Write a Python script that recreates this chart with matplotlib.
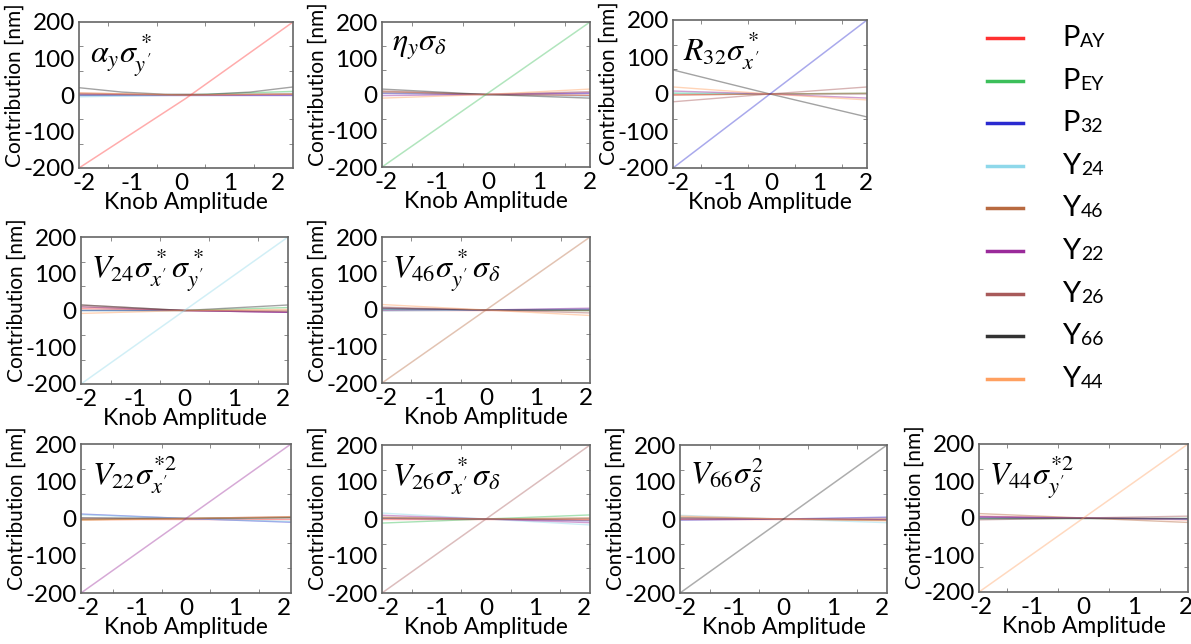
import numpy as np
import matplotlib
matplotlib.use("Agg")
import matplotlib.pyplot as plt
from matplotlib.ticker import MultipleLocator

plt.rcParams["font.family"] = ["Lato", "DejaVu Sans"]
plt.rcParams["mathtext.fontset"] = "stix"
plt.rcParams["axes.unicode_minus"] = False

# knobs (legend order)
knob_base = ["P", "P", "P", "Y", "Y", "Y", "Y", "Y", "Y"]
knob_sub = ["AY", "EY", "32", "24", "46", "22", "26", "66", "44"]
knob_colors = ["#ff3030", "#3cbf5a", "#2a2ad0", "#8ed8ea", "#b86a40",
               "#9a2a9a", "#a85a5a", "#333333", "#ffa060"]

# panel titles, the dominant line in each panel follows the legend order
titles = [r"$\alpha_y\sigma^*_{y'}$", r"$\eta_y\sigma_\delta$",
          r"$R_{32}\sigma^*_{x'}$", r"$V_{24}\sigma^*_{x'}\sigma^*_{y'}$",
          r"$V_{46}\sigma^*_{y'}\sigma_\delta$", r"$V_{22}\sigma^{*2}_{x'}$",
          r"$V_{26}\sigma^*_{x'}\sigma_\delta$", r"$V_{66}\sigma^2_\delta$",
          r"$V_{44}\sigma^{*2}_{y'}$"]
x_range = [(-2.1, 2.3), (-2.08, 2.0), (-2.1, 2.03), (-2.1, 2.1), (-2.08, 2.08),
           (-2.15, 2.15), (-2.12, 2.12), (-2.1, 2.1), (-2.05, 2.05)]

# contribution [nm] from xmin to xmax (points spread evenly over the x range)
# order in each list: PAY, PEY, P32, Y24, Y46, Y22, Y26, Y66, Y44
alpha_y = [[-200, -9, 200], [0, 0, 10], [0, 0, 0], [-5, 0, 5], [3, 0, 2],
           [2, 0, 0], [5, 0, 3], [20, 8, 2, 2, 8, 22], [6, 0, 3]]
eta_y = [[5, 0, -3], [-200, 0, 200], [3, 0, 3], [5, 0, -5], [8, 0, -2],
         [-3, 0, 5], [10, 0, 8], [15, 0, -10], [-10, 0, 15]]
r32 = [[-2, 0, 0], [2, 0, 2], [-200, 0, 200], [3, 0, 0], [-3, 0, 2],
       [8, 0, -11], [-21, 0, 19], [65, 0, -62], [19, 0, -16]]
v24 = [[5, 0, -5], [0, 0, 8], [0, 0, -5], [-200, 0, 200], [10, 0, 0],
       [10, 0, -5], [15, 0, -3], [15, 0, 15], [-8, 0, 3]]
v46 = [[0, 0, 0], [2, 0, -2], [0, 0, 2], [-3, 0, 3], [-200, 0, 200],
       [5, 0, 5], [8, 0, -8], [5, 0, 0], [15, 0, -15]]
v22 = [[0, 0, 0], [-3, 0, 3], [12, 0, -10], [10, 0, -8], [-3, 0, 3],
       [-200, 0, 200], [0, 0, 5], [2, 0, 2], [-5, 0, 5]]
v26 = [[0, 0, 0], [-11, 0, 11], [2, 0, -5], [16, 0, -16], [5, 0, -3],
       [10, 0, -10], [-200, 0, 200], [2, 0, 2], [3, 0, 3]]
v66 = [[0, 0, 0], [3, 0, -3], [-3, 0, 5], [10, 0, -10], [5, 0, -3],
       [2, 0, -2], [0, 0, 2], [-200, 0, 200], [8, 0, -5]]
v44 = [[5, 0, -5], [0, 0, 0], [3, 0, -3], [-3, 0, -3], [12, 0, -12],
       [2, 0, -2], [-5, 0, 5], [0, 0, 0], [-200, 0, 200]]
panel_data = [alpha_y, eta_y, r32, v24, v46, v22, v26, v66, v44]

# axes boxes in pixels: left, right, top, bottom
W, H = 1191, 644
boxes = [(79, 293, 22, 168), (382, 590, 22, 167), (673, 867, 20, 168),
         (81, 288, 237, 384), (382, 590, 237, 383),
         (81, 291, 444, 593), (382, 590, 445, 593), (680, 887, 445, 593),
         (979, 1188, 444, 592)]

fig = plt.figure(figsize=(W / 100, H / 100), dpi=100)

for k, (l, r, t, b) in enumerate(boxes):
    ax = fig.add_axes([l / W, 1 - b / H, (r - l) / W, (b - t) / H])
    xmin, xmax = x_range[k]
    for i, vals in enumerate(panel_data[k]):
        if i == k:
            continue
        xs = np.linspace(xmin, xmax, len(vals))
        ax.plot(xs, vals, color=knob_colors[i], lw=1.0, alpha=0.45)
    vals = panel_data[k][k]
    ax.plot(np.linspace(xmin, xmax, len(vals)), vals, color=knob_colors[k],
            lw=1.1, alpha=0.4)
    ax.set_xlim(xmin, xmax)
    ax.set_ylim(-200, 200)
    ax.set_xticks([-2, -1, 0, 1, 2])
    ax.set_yticks([-200, -100, 0, 100, 200])
    ax.xaxis.set_minor_locator(MultipleLocator(0.5))
    ax.yaxis.set_minor_locator(MultipleLocator(200 / 3))
    ax.tick_params(which="both", direction="in", top=True, right=True,
                   color="#777777", labelsize=17.5)
    ax.tick_params(axis="y", pad=3)
    ax.tick_params(axis="x", pad=3.5)
    ax.tick_params(which="major", length=0)
    ax.tick_params(which="minor", length=3)
    for s in ax.spines.values():
        s.set_color("#666666")
        s.set_linewidth(1.2)
    ax.set_xlabel("Knob Amplitude", fontsize=16.5, labelpad=-1.5)
    ax.set_ylabel("Contribution [nm]", fontsize=15, labelpad=-1)
    ax.yaxis.label.set_y(0.57)
    ax.text(0.05, 0.93, titles[k], transform=ax.transAxes, fontsize=23,
            va="top", ha="left")

# legend drawn by hand to keep the small subscripts on the baseline
fig.canvas.draw()
renderer = fig.canvas.get_renderer()
for i in range(len(knob_sub)):
    yc = 1 - (38 + i * 42.6) / H
    fig.add_artist(plt.Line2D([987 / W, 1023 / W], [yc, yc],
                              color=knob_colors[i], lw=2.5))
    t = fig.text(1062 / W, yc, knob_base[i], fontsize=21, va="center",
                 ha="left")
    bb = t.get_window_extent(renderer)
    fig.text(bb.x1 / W + 1 / W, bb.y0 / H + 1 / H, knob_sub[i], fontsize=14,
             va="bottom", ha="left")

fig.savefig("out.png", dpi=100)
